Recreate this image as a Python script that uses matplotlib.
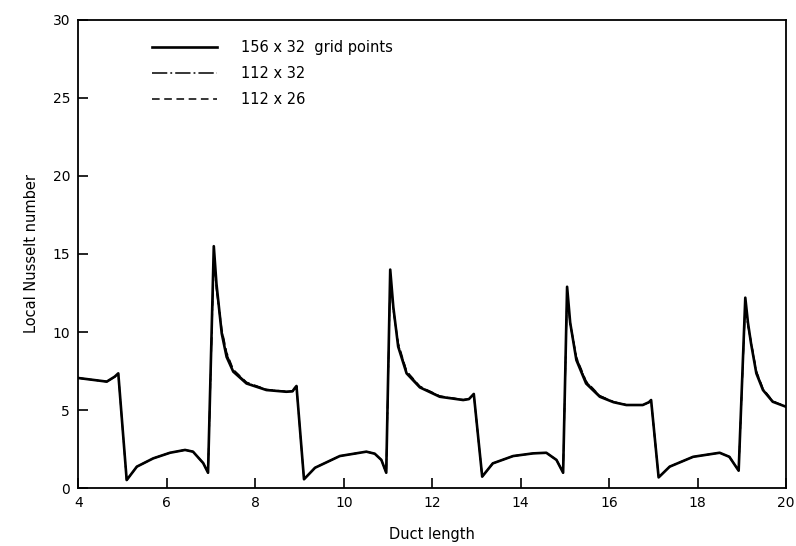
import matplotlib
matplotlib.use("Agg")
import matplotlib.pyplot as plt
import numpy as np

# duct length positions
duct_x = [4.0, 4.64, 4.82, 4.9, 5.09, 5.32, 5.69, 6.07, 6.41, 6.59, 6.82, 6.93,
          7.06, 7.12, 7.24, 7.35, 7.5, 7.8, 8.25, 8.7, 8.84, 8.89, 8.93,
          9.1, 9.35, 9.91, 10.51, 10.7, 10.85, 10.96,
          11.05, 11.12, 11.23, 11.42, 11.72, 12.17, 12.7, 12.83, 12.94,
          13.13, 13.37, 13.83, 14.28, 14.58, 14.81, 14.96,
          15.05, 15.12, 15.26, 15.48, 15.79, 16.1, 16.39, 16.76, 16.9, 16.95,
          17.12, 17.37, 17.9, 18.5, 18.72, 18.93,
          19.08, 19.14, 19.21, 19.33, 19.48, 19.7, 20.0]

# 156 x 32 grid points (solid)
nu_156x32 = [7.05, 6.82, 7.14, 7.35, 0.51, 1.37, 1.9, 2.26, 2.44, 2.33, 1.6, 0.98,
             15.5, 13.1, 9.9, 8.4, 7.46, 6.7, 6.28, 6.17, 6.2, 6.4, 6.54,
             0.56, 1.3, 2.05, 2.33, 2.2, 1.8, 0.98,
             14.0, 11.6, 9.06, 7.35, 6.45, 5.85, 5.64, 5.7, 6.03,
             0.73, 1.58, 2.05, 2.22, 2.26, 1.8, 0.98,
             12.9, 10.6, 8.2, 6.7, 5.85, 5.5, 5.32, 5.32, 5.5, 5.64,
             0.68, 1.37, 2.0, 2.26, 2.0, 1.11,
             12.2, 10.6, 9.27, 7.35, 6.28, 5.53, 5.21]

# 112 x 32 (dash-dot)
nu_112x32 = [7.05, 6.82, 7.12, 7.3, 0.51, 1.37, 1.9, 2.26, 2.44, 2.33, 1.6, 0.98,
             14.6, 12.7, 10.1, 8.6, 7.55, 6.75, 6.3, 6.18, 6.2, 6.38, 6.5,
             0.56, 1.3, 2.05, 2.33, 2.2, 1.8, 0.98,
             13.4, 11.4, 9.2, 7.45, 6.5, 5.88, 5.65, 5.7, 6.0,
             0.73, 1.58, 2.05, 2.22, 2.26, 1.8, 0.98,
             12.4, 10.5, 8.35, 6.8, 5.9, 5.52, 5.33, 5.32, 5.48, 5.6,
             0.68, 1.37, 2.0, 2.26, 2.0, 1.11,
             11.7, 10.4, 9.35, 7.45, 6.35, 5.56, 5.22]

# 112 x 26 (dashed)
nu_112x26 = [7.05, 6.82, 7.13, 7.32, 0.51, 1.37, 1.9, 2.26, 2.44, 2.33, 1.6, 0.98,
             14.9, 12.9, 10.2, 8.7, 7.6, 6.78, 6.32, 6.19, 6.2, 6.39, 6.52,
             0.56, 1.3, 2.05, 2.33, 2.2, 1.8, 0.98,
             13.6, 11.5, 9.3, 7.5, 6.52, 5.9, 5.66, 5.7, 6.01,
             0.73, 1.58, 2.05, 2.22, 2.26, 1.8, 0.98,
             12.6, 10.6, 8.4, 6.85, 5.92, 5.53, 5.33, 5.32, 5.49, 5.62,
             0.68, 1.37, 2.0, 2.26, 2.0, 1.11,
             11.9, 10.5, 9.4, 7.5, 6.38, 5.57, 5.22]

labels = ["156 x 32  grid points", "112 x 32", "112 x 26"]

fig = plt.figure(figsize=(7.96, 5.46), dpi=100)
ax = fig.add_axes([0.0986, 0.1062, 0.8888, 0.8572])

ax.plot(duct_x, nu_112x32, color="black", lw=1.1, ls=(0, (10, 2, 1.2, 2)), label=labels[1])
ax.plot(duct_x, nu_112x26, color="black", lw=1.1, ls=(0, (5, 3)), label=labels[2])
ax.plot(duct_x, nu_156x32, color="black", lw=1.9, ls="-", label=labels[0])

ax.set_xlim(4, 20)
ax.set_ylim(0, 30)
ax.set_xticks(np.arange(4, 21, 2))
ax.set_yticks(np.arange(0, 31, 5))
ax.tick_params(direction="in", length=7, width=1.2, labelsize=10, pad=6)
for s in ax.spines.values():
    s.set_linewidth(1.3)

ax.set_xlabel("Duct length", fontsize=10.5, labelpad=12)
ax.set_ylabel("Local Nusselt number", fontsize=10.5, labelpad=10)

h, l = ax.get_legend_handles_labels()
order = [2, 0, 1]
ax.legend([h[i] for i in order], [l[i] for i in order],
          loc="upper left", bbox_to_anchor=(0.085, 0.985), frameon=False,
          fontsize=10.5, handlelength=4.5, handletextpad=1.6, labelspacing=0.75)

fig.savefig("out.png", dpi=100)
